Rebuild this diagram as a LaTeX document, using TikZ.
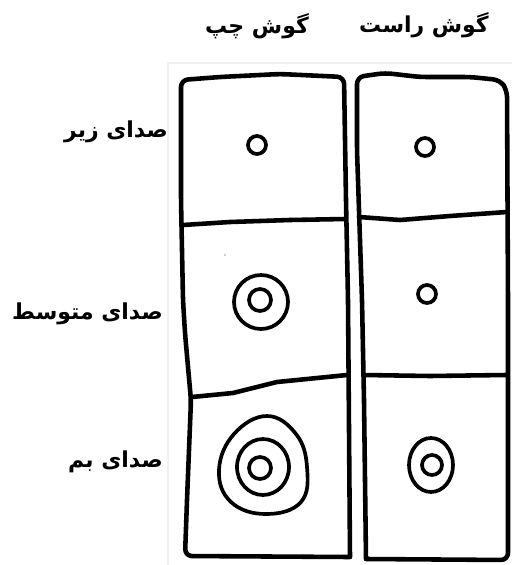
\documentclass[tikz,border=0pt]{standalone}
\usepackage{fontspec}
\newfontfamily\farsi[Script=Arabic]{DejaVu Sans}
\TeXXeTstate=1

\begin{document}
\begin{tikzpicture}[
       x=0.02cm, y=-0.02cm,
       cell/.style={
           line width=2.6pt,
           line join=round,
           line cap=round
       },
       ring/.style={
           line width=2.1pt
       },
       Ear/.style={
           font=\farsi\bfseries\fontsize{12.5}{15}\selectfont,
           inner sep=1pt
       },
       Pitch/.style={
           font=\farsi\bfseries\fontsize{12.5}{15}\selectfont,
           inner sep=1pt,
           anchor=east
       }
   ]
   \useasboundingbox (0,0) rectangle (512,565);

   % scan border
   \draw[black!6, line width=0.6pt] (168,565) -- (168,63) -- (512,63);

   % Left ear column
   \draw[cell, rounded corners=4pt] (350,557) -- (185,556) -- (187,500)
       -- (191,400) -- (188,367) -- (185,333) -- (183,300) -- (181,200)
       -- (181,80) -- (220,77) -- (280,74) -- (344,77) -- (346,200)
       -- (348,300) -- (350,557);
   \draw[cell] (183,225) -- (230,222) -- (290,220) -- (345,219);
   \draw[cell] (192,397) -- (233,393) -- (277,382) -- (347,375);

   % Right ear column
   \draw[cell, rounded corners=4pt] (366,559) -- (508,560) -- (508,300)
       -- (507,90) -- (500,80) -- (470,77) -- (420,77) -- (385,73)
       -- (357,77) -- (357,150) -- (362,300) -- (364,400) -- (366,559);
   \draw[cell] (359,217) -- (400,220) -- (450,216) -- (507,212);
   \draw[cell] (364,375) -- (430,376) -- (506,375);

   % Rings, high pitch
   \draw[ring] (257,145) circle (9);
   \draw[ring] (425,147) circle (9);

   % Rings, middle pitch
   \fill[black!40] (225,255) circle (0.8);
   \draw[ring] (261,302) ellipse (27 and 27);
   \draw[ring] (260,300) circle (11);
   \draw[ring] (427,294) circle (9);

   % Rings, low pitch
   \draw[ring] plot[smooth cycle, tension=0.7] coordinates {
       (267,416) (296,434) (307,467) (301,502) (266,514)
       (231,502) (219,470) (234,434)};
   \draw[ring] (263,467) ellipse (26 and 28);
   \draw[ring] (260,468) circle (11);
   \draw[ring] (431,465) ellipse (22 and 27);
   \draw[ring] (432,465) circle (10);

   % Labels
   \node[Ear] (rightear) at (424,25) {\beginR گوش راست\endR};
   \node[Ear] (leftear) at (257,26) {\beginR گوش چپ\endR};

   \node[Pitch] (high) at (170,132) {\beginR صدای زیر\endR};
   \node[Pitch] (mid) at (165,314) {\beginR صدای متوسط\endR};
   \node[Pitch] (low) at (165,462) {\beginR صدای بم\endR};

   \end{tikzpicture}
\end{document}
